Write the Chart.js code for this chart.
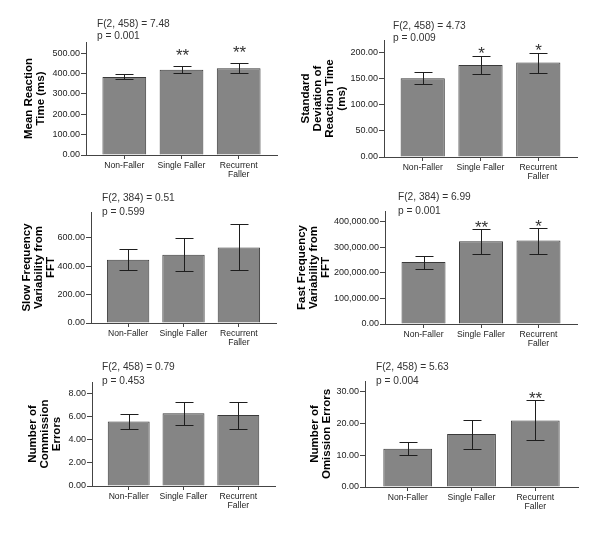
<!DOCTYPE html>
<html>
<head>
<meta charset="utf-8">
<script src="https://cdn.jsdelivr.net/npm/chart.js@4.4.1/dist/chart.umd.min.js"></script>
<style>
  html, body { margin: 0; padding: 0; background: #fff; }
  #page { position: relative; width: 600px; height: 538px; overflow: hidden; background: #fff; }
  #page canvas { position: absolute; }
</style>
</head>
<body>
<div id="page"></div>
<script>
// Groups on the x axis
const groups = ['Non-Faller', 'Single Faller', ['Recurrent', 'Faller']];

// Mean reaction time (ms)
const meanRT = [383, 419, 426];
const meanRTLow = [372, 402, 401];
const meanRTHigh = [396, 437, 451];
const meanRTStars = ['', '**', '**'];
const meanRTStats = ['F(2, 458) = 7.48', 'p = 0.001'];
const meanRTTicks = [0, 100, 200, 300, 400, 500];

// Standard deviation of reaction time (ms)
const sdRT = [151, 176, 181];
const sdRTLow = [139, 159, 160];
const sdRTHigh = [163, 193, 200];
const sdRTStars = ['', '*', '*'];
const sdRTStats = ['F(2, 458) = 4.73', 'p = 0.009'];
const sdRTTicks = [0, 50, 100, 150, 200];

// Slow frequency variability from FFT
const slowFFT = [445, 480, 530];
const slowFFTLow = [370, 363, 375];
const slowFFTHigh = [522, 598, 693];
const slowFFTStars = ['', '', ''];
const slowFFTStats = ['F(2, 384) = 0.51', 'p = 0.599'];
const slowFFTTicks = [0, 200, 400, 600];

// Fast frequency variability from FFT
const fastFFT = [243000, 324000, 327000];
const fastFFTLow = [216000, 276000, 275000];
const fastFFTHigh = [267000, 373000, 377000];
const fastFFTStars = ['', '**', '*'];
const fastFFTStats = ['F(2, 384) = 6.99', 'p = 0.001'];
const fastFFTTicks = [0, 100000, 200000, 300000, 400000];

// Number of commission errors
const commission = [5.56, 6.26, 6.1];
const commissionLow = [4.9, 5.28, 4.9];
const commissionHigh = [6.22, 7.2, 7.2];
const commissionStars = ['', '', ''];
const commissionStats = ['F(2, 458) = 0.79', 'p = 0.453'];
const commissionTicks = [0, 2, 4, 6, 8];

// Number of omission errors
const omission = [12.0, 16.6, 20.8];
const omissionLow = [10.1, 12.0, 14.6];
const omissionHigh = [14.1, 21.1, 27.4];
const omissionStars = ['', '', '**'];
const omissionStats = ['F(2, 458) = 5.63', 'p = 0.004'];
const omissionTicks = [0, 10, 20, 30];

const FONT = '"Liberation Sans", Arial, Helvetica, sans-serif';

// box = canvas [x, y, w, h], plot = axis box [left, top, right, bottom] (page px)
const panels = [
  { title: ['Mean Reaction', 'Time (ms)'], values: meanRT, low: meanRTLow, high: meanRTHigh,
    stars: meanRTStars, stats: meanRTStats, ticks: meanRTTicks, yMax: 555,
    box: [0, 0, 290, 180], plot: [86, 42, 277, 155], titleX: 29, statDx: 11, statDy: [-18, -6], lift: 9 },
  { title: ['Standard', 'Deviation of', 'Reaction Time', '(ms)'], values: sdRT, low: sdRTLow, high: sdRTHigh,
    stars: sdRTStars, stats: sdRTStats, ticks: sdRTTicks, yMax: 224,
    box: [290, 0, 310, 180], plot: [384, 40, 577, 157], titleX: 306, statDx: 9, statDy: [-14, -2], lift: 1 },
  { title: ['Slow Frequency', 'Variability from', 'FFT'], values: slowFFT, low: slowFFTLow, high: slowFFTHigh,
    stars: slowFFTStars, stats: slowFFTStats, ticks: slowFFTTicks, yMax: 780,
    box: [0, 180, 290, 172], plot: [91, 212, 276, 323], titleX: 27, statDx: 11, statDy: [-14, 0], lift: 0 },
  { title: ['Fast Frequency', 'Variability from', 'FFT'], values: fastFFT, low: fastFFTLow, high: fastFFTHigh,
    stars: fastFFTStars, stats: fastFFTStats, ticks: fastFFTTicks, yMax: 443000,
    box: [290, 180, 310, 172], plot: [385, 211, 577, 324], titleX: 302, statDx: 13, statDy: [-14, 0], lift: 0 },
  { title: ['Number of', 'Commission', 'Errors'], values: commission, low: commissionLow, high: commissionHigh,
    stars: commissionStars, stats: commissionStats, ticks: commissionTicks, yMax: 8.95,
    box: [0, 352, 290, 186], plot: [92, 382, 275, 486], titleX: 33, statDx: 10, statDy: [-14.5, -1.3], lift: 0 },
  { title: ['Number of', 'Omission Errors'], values: omission, low: omissionLow, high: omissionHigh,
    stars: omissionStars, stats: omissionStats, ticks: omissionTicks, yMax: 33.2,
    box: [290, 352, 310, 186], plot: [365, 381, 578, 487], titleX: 315, statDx: 11, statDy: [-13.7, -0.3], lift: 0 }
];

// Error bars, significance stars and F / p text
const extras = {
  id: 'extras',
  afterDatasetsDraw(chart, args, o) {
    const ctx = chart.ctx, xs = chart.scales.x, ys = chart.scales.y, a = chart.chartArea;
    ctx.save();
    ctx.strokeStyle = '#1e1e1e';
    ctx.lineWidth = 1;
    o.low.forEach((lo, i) => {
      const px = Math.round(xs.getPixelForValue(i)) + 0.5;
      const y1 = Math.round(ys.getPixelForValue(lo)) + 0.5;
      const y2 = Math.round(ys.getPixelForValue(o.high[i])) + 0.5;
      ctx.beginPath();
      ctx.moveTo(px, y1); ctx.lineTo(px, y2);
      ctx.moveTo(px - 9, y1); ctx.lineTo(px + 9, y1);
      ctx.moveTo(px - 9, y2); ctx.lineTo(px + 9, y2);
      ctx.stroke();
      if (o.stars[i]) {
        ctx.fillStyle = '#333';
        ctx.font = '17px ' + FONT;
        ctx.textAlign = 'center';
        ctx.textBaseline = 'alphabetic';
        ctx.fillText(o.stars[i], px, y2 + 3 - o.lift);
      }
    });
    ctx.fillStyle = '#333';
    ctx.font = '10.2px ' + FONT;
    ctx.textAlign = 'left';
    ctx.textBaseline = 'middle';
    ctx.fillText(o.stats[0], a.left + o.statDx, a.top + o.statDy[0]);
    ctx.fillText(o.stats[1], a.left + o.statDx, a.top + o.statDy[1]);
    ctx.restore();
  }
};

const page = document.getElementById('page');

panels.forEach(p => {
  const [bx, by, bw, bh] = p.box;
  const [L, T, R, B] = p.plot;
  const canvas = document.createElement('canvas');
  canvas.width = bw;
  canvas.height = bh;
  canvas.style.left = bx + 'px';
  canvas.style.top = by + 'px';
  page.appendChild(canvas);

  new Chart(canvas, {
    type: 'bar',
    data: {
      datasets: [{
        data: p.values.map((v, i) => ({ x: i, y: v })),
        backgroundColor: '#858585',
        borderColor: '#3a3a3a',
        borderWidth: 1,
        barPercentage: 0.765,
        categoryPercentage: 1
      }]
    },
    options: {
      responsive: false,
      animation: false,
      events: [],
      layout: { padding: { left: 0, top: T - by, right: bx + bw - R, bottom: 0 } },
      plugins: {
        legend: { display: false },
        tooltip: { enabled: false },
        extras: { low: p.low, high: p.high, stars: p.stars, stats: p.stats,
                  statDx: p.statDx, statDy: p.statDy, lift: p.lift }
      },
      scales: {
        x: {
          type: 'linear',
          offset: false,
          min: -0.67,
          max: 2.67,
          afterBuildTicks: s => { s.ticks = groups.map((g, i) => ({ value: i })); },
          afterFit: s => { s.height = by + bh - B; },
          grid: { offset: false, drawOnChartArea: false, tickLength: 4, color: '#444' },
          border: { color: '#444' },
          ticks: {
            callback: v => groups[v],
            font: { family: FONT, size: 8.6, lineHeight: 1.0 },
            color: '#222',
            padding: 2.5,
            maxRotation: 0,
            autoSkip: false
          }
        },
        y: {
          min: 0,
          max: p.yMax,
          afterBuildTicks: s => { s.ticks = p.ticks.map(v => ({ value: v })); },
          afterFit: s => { s.width = L - bx; },
          grid: { drawOnChartArea: false, tickLength: 5, color: '#444' },
          border: { color: '#444' },
          ticks: {
            callback: v => v.toLocaleString('en-US', { minimumFractionDigits: 2, maximumFractionDigits: 2 }),
            font: { family: FONT, size: 9 },
            color: '#222',
            padding: 1
          },
          title: {
            display: true,
            text: p.title,
            color: '#000',
            font: { family: FONT, size: 11.5, weight: 'bold', lineHeight: 1.05 },
            padding: { top: p.titleX - bx - 6, bottom: 0 }
          }
        }
      }
    },
    plugins: [extras]
  });
});
</script>
</body>
</html>
